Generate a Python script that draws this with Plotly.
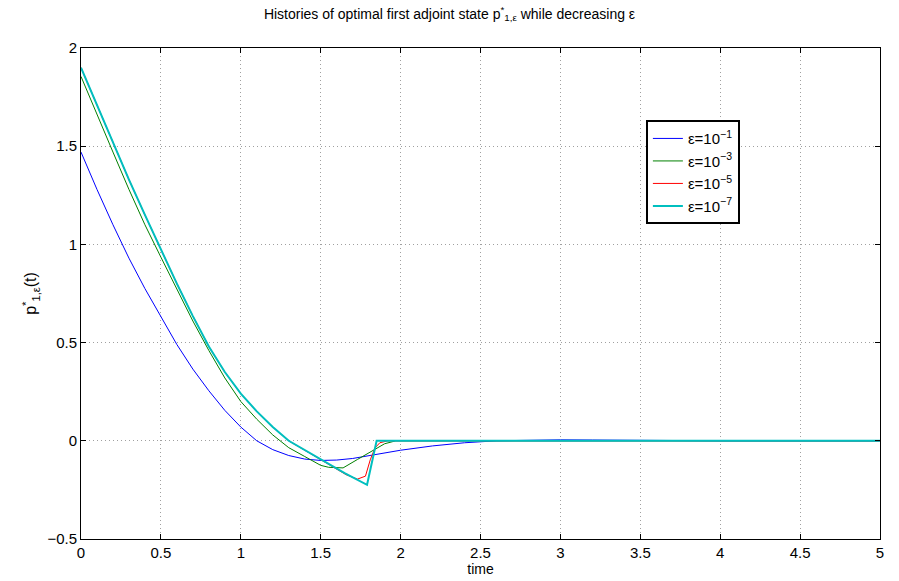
import plotly.graph_objects as go

# ---- data ----
t_blue = [0, 0.1, 0.2, 0.3, 0.4, 0.5, 0.6, 0.7, 0.8, 0.9, 1.0, 1.1, 1.2, 1.3, 1.4, 1.5, 1.6, 1.7,
          1.8, 1.9, 2.0, 2.2, 2.4, 2.6, 2.8, 3.0, 3.2, 3.5, 4.0, 5.0]
p_blue = [1.47, 1.28, 1.10, 0.93, 0.775, 0.63, 0.49, 0.365, 0.255, 0.155, 0.07, 0.0, -0.045, -0.075,
          -0.093, -0.10, -0.098, -0.09, -0.077, -0.062, -0.048, -0.026, -0.01, 0.0, 0.004, 0.005,
          0.004, 0.002, 0.0, 0.0]

t_green = [0, 0.1, 0.2, 0.3, 0.4, 0.5, 0.6, 0.7, 0.8, 0.9, 1.0, 1.1, 1.2, 1.3, 1.4, 1.5, 1.55,
           1.64, 1.73, 1.83, 1.9, 1.97, 2.5, 5.0]
p_green = [1.855, 1.66, 1.47, 1.28, 1.10, 0.935, 0.77, 0.61, 0.46, 0.32, 0.20, 0.11, 0.03, -0.035,
           -0.08, -0.125, -0.135, -0.138, -0.095, -0.046, -0.015, 0.0, 0.0, 0.0]

t_red = [0, 0.1, 0.2, 0.3, 0.4, 0.5, 0.6, 0.7, 0.8, 0.9, 1.0, 1.1, 1.2, 1.3, 1.5, 1.66, 1.73,
         1.78, 1.81, 1.84, 1.87, 1.92, 2.5, 5.0]
p_red = [1.90, 1.71, 1.52, 1.33, 1.15, 0.975, 0.80, 0.635, 0.48, 0.35, 0.24, 0.15, 0.07, 0.0,
         -0.095, -0.173, -0.195, -0.18, -0.097, -0.036, -0.01, 0.0, 0.0, 0.0]

t_cyan = [0, 0.1, 0.2, 0.3, 0.4, 0.5, 0.6, 0.7, 0.8, 0.9, 1.0, 1.1, 1.2, 1.3, 1.5, 1.65, 1.79,
          1.85, 2.0, 2.5, 5.0]
p_cyan = [1.90, 1.71, 1.52, 1.33, 1.15, 0.975, 0.80, 0.635, 0.48, 0.35, 0.24, 0.15, 0.07, 0.0,
          -0.095, -0.165, -0.224, 0.0, 0.0, 0.0, 0.0]

labels = ["ε=10<sup>−1</sup>", "ε=10<sup>−3</sup>", "ε=10<sup>−5</sup>", "ε=10<sup>−7</sup>"]
x_ticks = [0, 0.5, 1, 1.5, 2, 2.5, 3, 3.5, 4, 4.5, 5]
y_ticks = [-0.5, 0, 0.5, 1, 1.5, 2]
y_ticktext = ["−0.5", "0", "0.5", "1", "1.5", "2"]

fig = go.Figure()
fig.add_trace(go.Scatter(x=t_blue, y=p_blue, mode="lines", name=labels[0],
                         line=dict(color="rgb(0,0,255)", width=1)))
fig.add_trace(go.Scatter(x=t_green, y=p_green, mode="lines", name=labels[1],
                         line=dict(color="rgb(0,128,0)", width=1)))
fig.add_trace(go.Scatter(x=t_red, y=p_red, mode="lines", name=labels[2],
                         line=dict(color="rgb(255,0,0)", width=1)))
fig.add_trace(go.Scatter(x=t_cyan, y=p_cyan, mode="lines", name=labels[3],
                         line=dict(color="rgb(0,191,191)", width=2)))

font = "Liberation Sans, Arial, Helvetica, sans-serif"
axis_common = dict(showline=True, linecolor="black", linewidth=1, mirror="ticks",
                   ticks="inside", ticklen=5, tickcolor="black", automargin=False,
                   showgrid=True, gridcolor="rgb(160,160,160)", griddash="1px,3px", gridwidth=1,
                   zeroline=False, tickfont=dict(size=15, color="black", family=font))

fig.update_layout(
    width=899, height=581,
    margin=dict(l=81, r=19, t=48, b=42),
    paper_bgcolor="white", plot_bgcolor="white",
    font=dict(family=font, color="black", size=12),
    title=dict(text="Histories of optimal first adjoint state p<sup>*</sup><sub>1,ε</sub> while decreasing ε",
               x=0.5, xanchor="center", y=0.985, yanchor="top", font=dict(size=14)),
    xaxis=dict(range=[0, 5], tickvals=x_ticks, ticktext=[str(v) for v in x_ticks],
               title=dict(text="time", standoff=0, font=dict(size=14)), **axis_common),
    yaxis=dict(range=[-0.5, 2], tickvals=y_ticks, ticktext=y_ticktext,
               title=dict(text="p<sup>*</sup><sub>1,ε</sub>(t)", standoff=6, font=dict(size=16)), **axis_common),
    legend=dict(x=0.707, y=0.853, xanchor="left", yanchor="top",
                bgcolor="white", bordercolor="black", borderwidth=2,
                font=dict(size=15, color="black"), tracegroupgap=0, itemwidth=30),
    showlegend=True,
)

fig.write_html("out.html")
